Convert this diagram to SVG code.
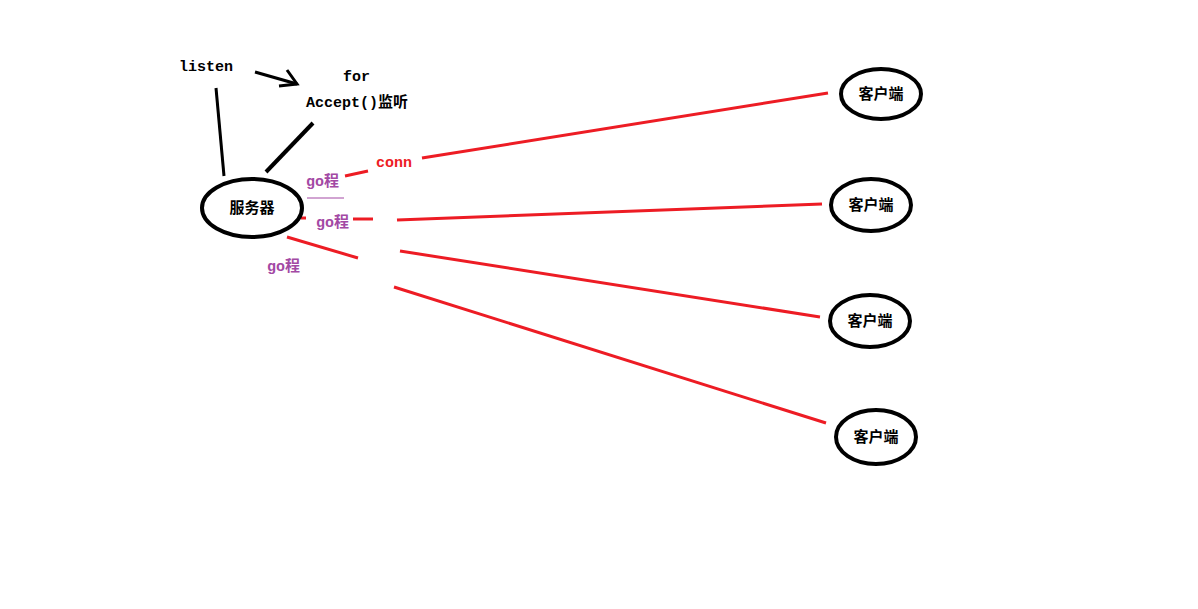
<svg xmlns="http://www.w3.org/2000/svg" width="1198" height="609" viewBox="0 0 1198 609">
<style>
.node{fill:#fff;stroke:#000;stroke-width:4}
.t{font-family:"Liberation Mono","Noto Sans CJK SC",monospace;font-size:15px;font-weight:bold}
.nl{font-family:"Noto Sans CJK SC",sans-serif;font-size:15px;font-weight:bold;text-anchor:middle}
.blk{stroke:#000;stroke-width:4;fill:none;stroke-linecap:butt}
.red{stroke:#ed1c24;stroke-width:3;fill:none}
.pur{fill:#a349a4}
</style>
<rect width="1198" height="609" fill="#fff"/>
<g id="connectors">
<line class="blk" x1="216" y1="88" x2="224" y2="176" style="stroke-width:3"/>
<line class="blk" x1="313" y1="123" x2="266" y2="172"/>
<polyline class="blk" points="255,72 297,84" style="stroke-width:3"/>
<polyline class="blk" points="287,70 297,84 279,86" style="stroke-width:3"/>
<line class="red" x1="345" y1="176" x2="368" y2="171"/>
<line class="red" x1="422" y1="158" x2="828" y2="93"/>
<line class="red" x1="301" y1="218" x2="306" y2="218"/>
<line class="red" x1="353" y1="219" x2="373" y2="219"/>
<line class="red" x1="397" y1="220" x2="822" y2="204"/>
<line class="red" x1="287" y1="237" x2="358" y2="258"/>
<line class="red" x1="400" y1="251" x2="820" y2="317"/>
<line class="red" x1="394" y1="287" x2="826" y2="423"/>
<line x1="307" y1="198" x2="344" y2="198" stroke="#a349a4" stroke-width="1"/>
</g>
<g id="labels">
<text class="t" x="179" y="71">listen</text>
<text class="t" x="343" y="81">for</text>
<text class="t" x="306" y="107">Accept()监听</text>
<text class="t" x="376" y="167" fill="#ed1c24">conn</text>
<text class="t pur" x="306" y="186">go程</text>
<text class="t pur" x="316" y="227">go程</text>
<text class="t pur" x="267" y="271">go程</text>
</g>
<g id="server">
<ellipse class="node" cx="252" cy="208" rx="50" ry="29"/>
<text class="nl" x="252" y="213">服务器</text>
</g>
<g id="client1">
<ellipse class="node" cx="881" cy="94" rx="40" ry="25"/>
<text class="nl" x="881" y="99">客户端</text>
</g>
<g id="client2">
<ellipse class="node" cx="871" cy="205" rx="40" ry="26"/>
<text class="nl" x="871" y="210">客户端</text>
</g>
<g id="client3">
<ellipse class="node" cx="870" cy="321" rx="40" ry="26"/>
<text class="nl" x="870" y="326">客户端</text>
</g>
<g id="client4">
<ellipse class="node" cx="876" cy="437" rx="40" ry="27"/>
<text class="nl" x="876" y="442">客户端</text>
</g>
</svg>
